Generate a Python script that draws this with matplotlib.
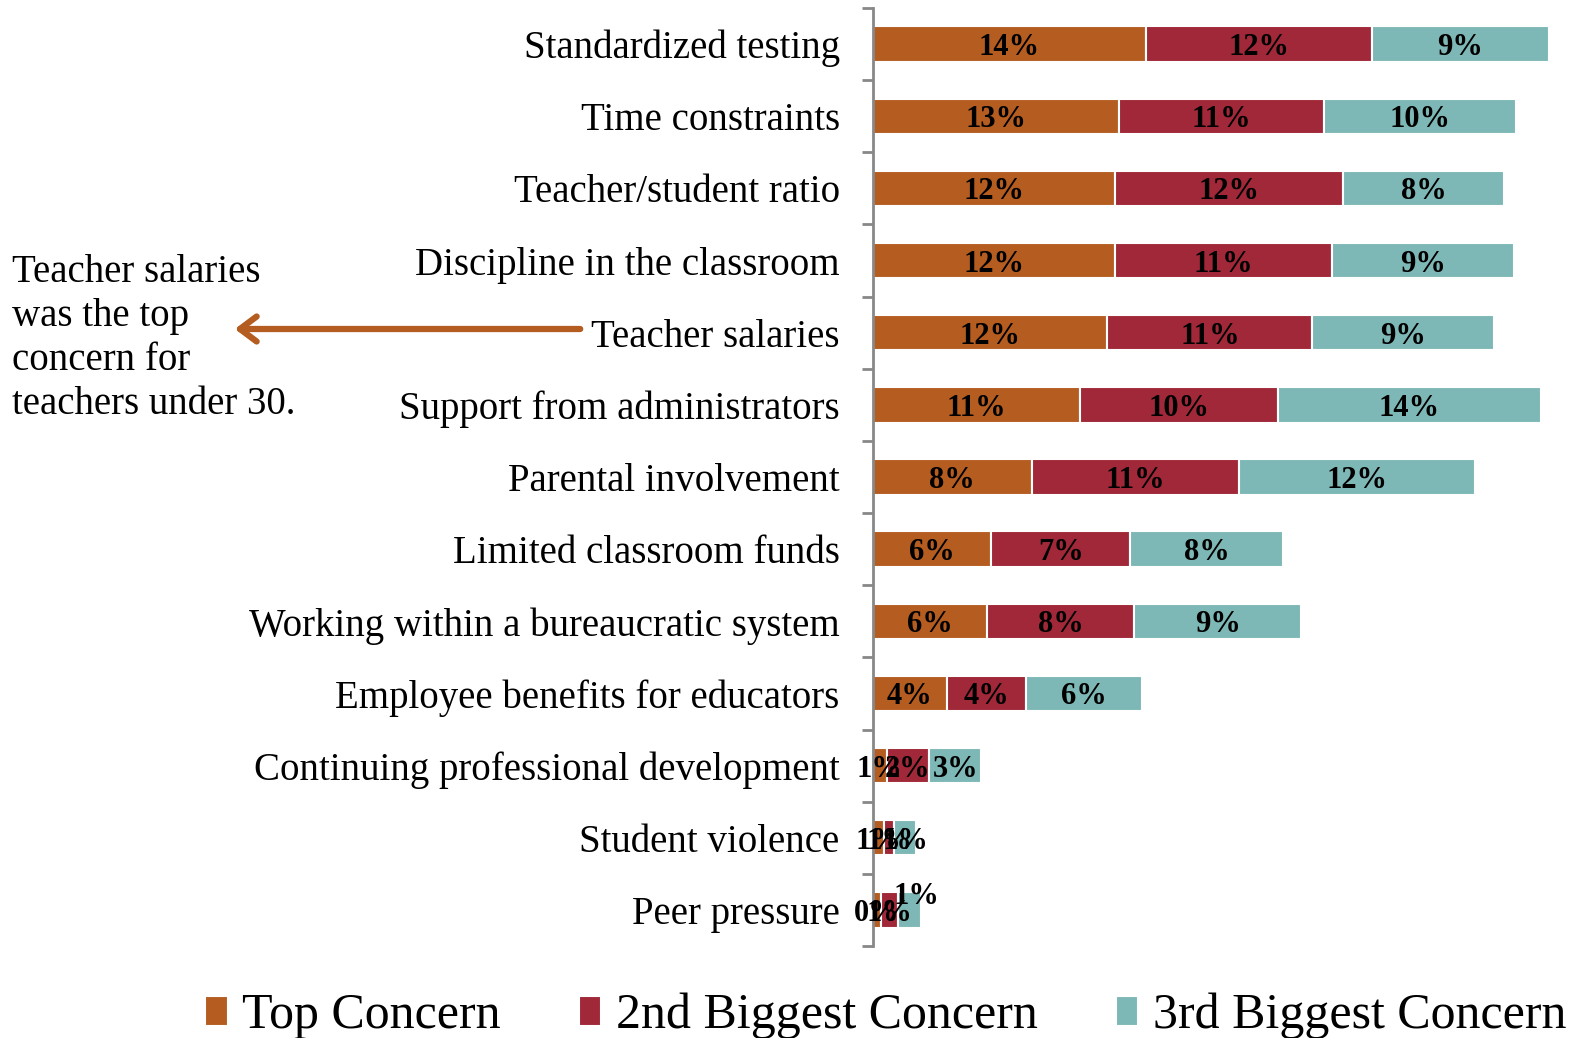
import matplotlib

matplotlib.use("Agg")
import matplotlib.pyplot as plt
import numpy as np

categories = [
    "Standardized testing",
    "Time constraints",
    "Teacher/student ratio",
    "Discipline in the classroom",
    "Teacher salaries",
    "Support from administrators",
    "Parental involvement",
    "Limited classroom funds",
    "Working within a bureaucratic system",
    "Employee benefits for educators",
    "Continuing professional development",
    "Student violence",
    "Peer pressure",
]
top_concern = [14.1, 12.7, 12.5, 12.5, 12.1, 10.7, 8.2, 6.1, 5.9, 3.8, 0.7, 0.55, 0.4]
second_concern = [11.7, 10.6, 11.8, 11.2, 10.6, 10.2, 10.7, 7.2, 7.6, 4.1, 2.2, 0.55, 0.9]
third_concern = [9.1, 9.9, 8.3, 9.4, 9.4, 13.6, 12.2, 7.9, 8.6, 6.0, 2.7, 1.1, 1.2]
series_names = ["Top Concern", "2nd Biggest Concern", "3rd Biggest Concern"]
colors = ["#B55C20", "#A02838", "#7DB8B6"]
note = "Teacher salaries\nwas the top\nconcern for\nteachers under 30."

SERIF = ["Liberation Serif", "DejaVu Serif"]
plt.rcParams["font.family"] = SERIF

W, H = 1578, 1038
fig = plt.figure(figsize=(W / 100, H / 100), dpi=100)
ax = fig.add_axes([873 / W, 1 - 946 / H, (1566 - 873) / W, (946 - 8) / H])

y = np.arange(len(categories))
left = np.zeros(len(categories))
containers = []
for vals, name, col in zip([top_concern, second_concern, third_concern], series_names, colors):
    vals = np.asarray(vals)
    bars = ax.barh(y, vals, left=left, height=0.49, color=col, edgecolor="white",
                   linewidth=1.5, label=name)
    containers.append(bars)
    for i, (v, l) in enumerate(zip(vals, left)):
        dx, dy = 0, 0
        if name == "3rd Biggest Concern" and categories[i] == "Peer pressure":
            dx, dy = 5, 12
        ax.annotate(f"{v:.0f}%", (l + v / 2, i), xytext=(dx, dy), textcoords="offset points",
                    ha="center", va="center_baseline", fontsize=22, fontweight="bold",
                    color="black")
    left = left + vals

ax.set_xlim(0, 35.8)
ax.set_ylim(len(categories) - 0.5, -0.5)
ax.set_yticks(y)
ax.set_yticklabels(categories, fontsize=28)
ax.set_yticks(np.arange(len(categories) + 1) - 0.5, minor=True)
ax.tick_params(axis="y", which="major", length=0, pad=24)
ax.tick_params(axis="y", which="minor", length=8, width=2, color="#888888", direction="out")
ax.set_xticks([])
for s in ["top", "right", "bottom"]:
    ax.spines[s].set_visible(False)
ax.spines["left"].set_color("#888888")
ax.spines["left"].set_linewidth(2)

# callout for teacher salaries
fig.text(12 / W, 1 - 254 / H, note, fontsize=28, va="top", ha="left", linespacing=1.25)
fig.add_artist(matplotlib.patches.FancyArrowPatch(
    (583 / W, 1 - 329 / H), (232 / W, 1 - 329 / H), transform=fig.transFigure,
    arrowstyle="->,head_length=12,head_width=9", color="#B55C20", lw=4.5))

fig.legend(handles=containers, labels=series_names, loc="center left",
           bbox_to_anchor=(205 / W, 1 - 1016 / H), ncol=3, frameon=False, fontsize=36,
           handlelength=0.45, handleheight=0.55, handletextpad=0.3, columnspacing=1.55,
           borderaxespad=0, borderpad=0)

fig.savefig("out.png", dpi=100)
